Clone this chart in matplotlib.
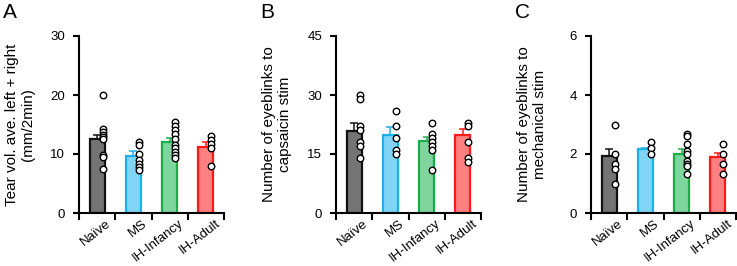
import numpy as np
import matplotlib
matplotlib.use("Agg")
import matplotlib.pyplot as plt
from matplotlib import transforms

plt.rcParams["font.family"] = ["Liberation Sans", "DejaVu Sans"]

groups = ["Naïve", "MS", "IH-Infancy", "IH-Adult"]
fills = ["#747474", "#80d4f4", "#80d59e", "#ff8080"]
edges = ["#111111", "#1ab2ea", "#1aac48", "#ff1a1a"]

# A: tear volume
tear_mean = [12.5, 9.7, 12.1, 11.25]
tear_sem = [0.8, 0.75, 0.55, 0.85]
tear_pts = [
    [20.0, 14.2, 13.8, 13.3, 12.9, 12.5, 9.9, 9.5, 7.5],
    [12.0, 11.5, 10.0, 9.0, 8.3, 7.8, 7.3],
    [15.5, 14.8, 14.1, 13.4, 12.5, 11.6, 11.0, 10.4, 9.8, 9.4],
    [13.0, 12.3, 11.7, 11.0, 8.0],
]

# B: capsaicin eyeblinks
caps_mean = [20.8, 19.8, 18.3, 19.9]
caps_sem = [2.2, 2.0, 0.95, 1.4]
caps_pts = [
    [30, 29, 22, 21, 18, 17, 14],
    [26, 22, 19, 16, 15],
    [23, 20, 19, 18, 17, 16, 11],
    [23, 22, 18, 14, 13],
]

# C: mechanical eyeblinks
mech_mean = [1.93, 2.16, 2.0, 1.89]
mech_sem = [0.25, 0.05, 0.16, 0.13]
mech_pts = [
    [3.0, 2.0, 1.67, 1.5, 1.0],
    [2.4, 2.2, 2.0],
    [2.67, 2.6, 2.33, 2.1, 2.0, 1.75, 1.67, 1.6, 1.33],
    [2.33, 2.0, 1.67, 1.33],
]

panels = [
    ("A", tear_mean, tear_sem, tear_pts, 30, [0, 10, 20, 30],
     "Tear vol. ave. left + right\n(mm/2min)", 79),
    ("B", caps_mean, caps_sem, caps_pts, 45, [0, 15, 30, 45],
     "Number of eyeblinks to\ncapsaicin stim", 336),
    ("C", mech_mean, mech_sem, mech_pts, 6, [0, 2, 4, 6],
     "Number of eyeblinks to\nmechanical stim", 591),
]

W, H = 737, 266
fig = plt.figure(figsize=(W / 100, H / 100), dpi=100)
fig.patch.set_facecolor("white")

for letter, mean, sem, pts, ymax, yticks, ylab, left_px in panels:
    ax = fig.add_axes([left_px / W, 53 / H, 145 / W, 177 / H])
    x = np.arange(len(groups))
    ax.bar(x, mean, width=0.42, color=fills, edgecolor=edges, linewidth=1.6, zorder=2)
    for i in range(len(groups)):
        ax.errorbar(x[i], mean[i], yerr=[[0], [sem[i]]], fmt="none",
                    ecolor=edges[i], elinewidth=1.1, capsize=3, capthick=1.1, zorder=1)
        ax.scatter(np.full(len(pts[i]), x[i] + 0.15), pts[i], s=22, facecolor="white",
                   edgecolor="black", linewidth=1.0, zorder=3, clip_on=False)
    ax.set_xlim(-0.5, 3.5)
    ax.set_ylim(0, ymax)
    ax.set_yticks(yticks)
    ax.set_xticks([-0.5, 0.5, 1.5, 2.5, 3.5])
    ax.set_xticklabels([])
    ax.set_xticks(x, minor=True)
    ax.set_xticklabels(groups, minor=True, rotation=38, ha="right",
                       rotation_mode="anchor", fontsize=9.5)
    ax.tick_params(axis="x", which="minor", length=0, pad=3)
    ax.tick_params(axis="x", which="major", length=5, width=1.5, direction="out")
    ax.tick_params(axis="y", length=4, width=1.5, labelsize=9.5, pad=6)
    off = transforms.ScaledTranslation(9 / 100, 0, fig.dpi_scale_trans)
    for lab in ax.get_xticklabels(minor=True):
        lab.set_transform(lab.get_transform() + off)
    for s in ["top", "right"]:
        ax.spines[s].set_visible(False)
    for s in ["left", "bottom"]:
        ax.spines[s].set_linewidth(1.5)
    ax.set_ylabel(ylab, fontsize=11, linespacing=1.15)
    ax.yaxis.set_label_coords(-44 / 145, 0.5)
    fig.text((left_px - 76) / W, 1 - 3 / H, letter, fontsize=15, va="top", ha="left")

fig.savefig("out.png", dpi=100)
